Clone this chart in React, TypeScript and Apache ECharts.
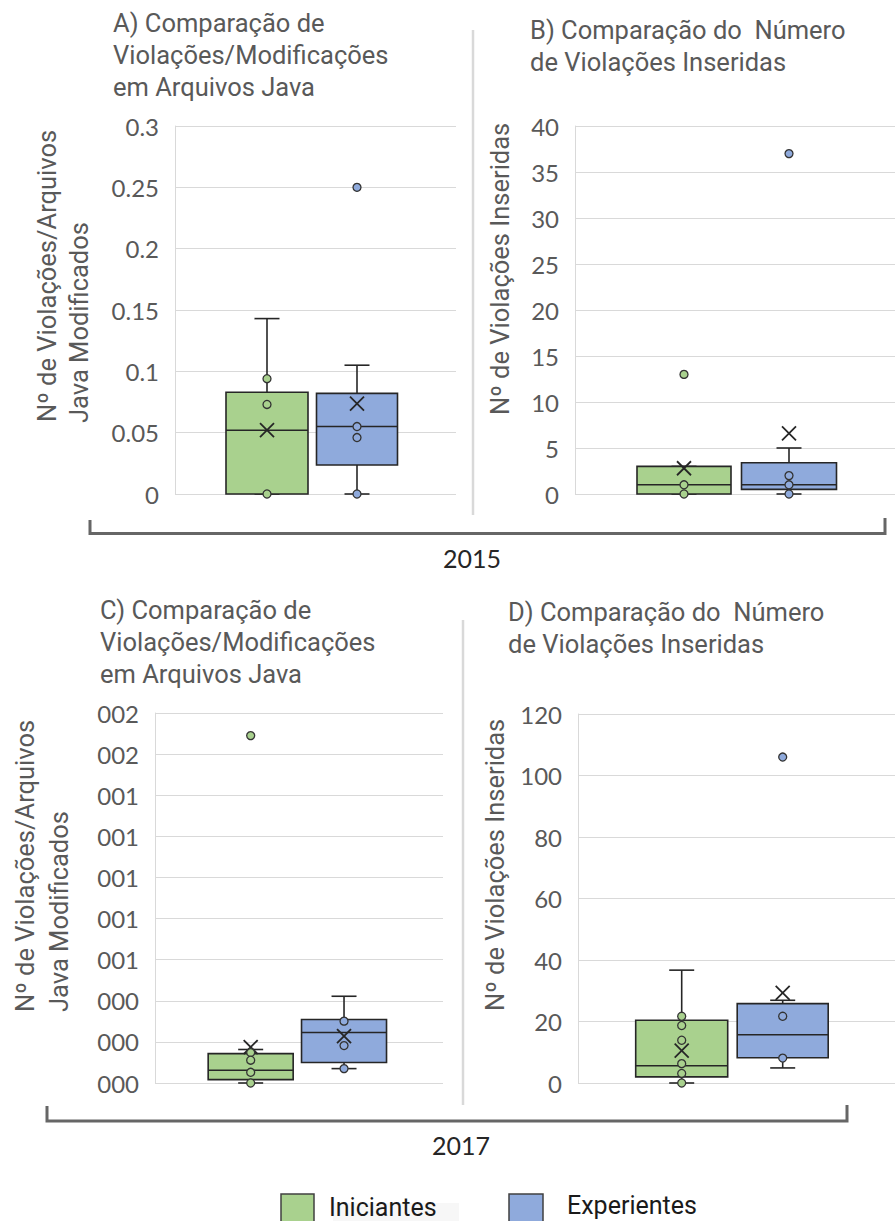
import React, { useEffect, useRef } from 'react';
import * as echarts from 'echarts';

const categories = ['Iniciantes', 'Experientes'];
const colors = ['#A9D18E', '#8FAADC'];

// [min, Q1, median, Q3, max] per group
const boxA = [[0, 0, 0.052, 0.083, 0.143], [0, 0.0236, 0.055, 0.082, 0.105]];
const meanA = [0.052, 0.0736];
const pointsA = [[0.094, 0.073, 0], [0.055, 0.046, 0, 0.25]];

const boxB = [[0, 0, 1, 3, 3], [0, 0.5, 1, 3.4, 5]];
const meanB = [2.8, 6.6];
const pointsB = [[13, 1, 0], [37, 2, 1, 0]];

const boxC = [[0, 0.0000166, 0.000062, 0.000143, 0.000163], [0.00007, 0.0000994, 0.000246, 0.000309, 0.000422]];
const meanC = [0.000175, 0.000228];
const pointsC = [[0.00169, 0.000148, 0.000111, 0.000052, 0], [0.000301, 0.000182, 0.00007]];
const ticksC = ['000', '000', '000', '001', '001', '001', '001', '001', '002', '002'];

const boxD = [[0, 2, 5.6, 20.4, 36.7], [4.9, 8.2, 15.7, 25.8, 26.9]];
const meanD = [10.5, 29.3];
const pointsD = [[21.7, 18.7, 13.9, 6.3, 3.1, 0], [106, 21.7, 8.1]];

const titleA = 'A) Comparação de\nViolações/Modificações\nem Arquivos Java';
const titleB = 'B) Comparação do  Número\nde Violações Inseridas';
const titleC = 'C) Comparação de\nViolações/Modificações\nem Arquivos Java';
const titleD = 'D) Comparação do  Número\nde Violações Inseridas';
const yNameRatio = ['Nº de Violações/Arquivos', 'Java Modificados'];
const yNameCount = 'Nº de Violações Inseridas';
const years = ['2015', '2017'];

const panels = [
  { frame: { left: 175, top: 126, width: 281, height: 368 }, data: { left: 222, width: 180 }, max: 0.3, interval: 0.05, boxW: [82, 81], box: boxA, mean: meanA, points: pointsA, labels: null as string[] | null },
  { frame: { left: 575, top: 126, width: 320, height: 368 }, data: { left: 631.5, width: 210 }, max: 40, interval: 5, boxW: [94, 95], box: boxB, mean: meanB, points: pointsB, labels: null },
  { frame: { left: 155, top: 713, width: 288, height: 370 }, data: { left: 204, width: 186.7 }, max: 0.0018, interval: 0.0002, boxW: [85, 85], box: boxC, mean: meanC, points: pointsC, labels: ticksC },
  { frame: { left: 578, top: 714, width: 317, height: 369 }, data: { left: 631.2, width: 202 }, max: 120, interval: 20, boxW: [92, 91], box: boxD, mean: meanD, points: pointsD, labels: null },
];

const STROKE = '#262626';
const GRAY = '#595959';

const makeRender = (boxW: number[]) => (params: any, api: any) => {
  const i = params.dataIndex;
  const idx = api.value(0);
  const c = (v: number) => api.coord([idx, v]);
  const [x, yMin] = c(api.value(1));
  const yQ1 = c(api.value(2))[1];
  const yMed = c(api.value(3))[1];
  const yQ3 = c(api.value(4))[1];
  const yMax = c(api.value(5))[1];
  const yMean = c(api.value(6))[1];
  const hw = boxW[i] / 2;
  const cap = 12.5;
  const m = 7;
  const ls = { stroke: STROKE, lineWidth: 1.6 };
  return {
    type: 'group',
    children: [
      { type: 'line', shape: { x1: x, y1: yMax, x2: x, y2: yQ3 }, style: ls },
      { type: 'line', shape: { x1: x, y1: yQ1, x2: x, y2: yMin }, style: ls },
      { type: 'line', shape: { x1: x - cap, y1: yMax, x2: x + cap, y2: yMax }, style: ls },
      { type: 'line', shape: { x1: x - cap, y1: yMin, x2: x + cap, y2: yMin }, style: ls },
      { type: 'rect', shape: { x: x - hw, y: yQ3, width: hw * 2, height: yQ1 - yQ3 }, style: { fill: colors[i], stroke: STROKE, lineWidth: 1.6 } },
      { type: 'line', shape: { x1: x - hw, y1: yMed, x2: x + hw, y2: yMed }, style: ls },
      { type: 'line', shape: { x1: x - m, y1: yMean - m, x2: x + m, y2: yMean + m }, style: { stroke: STROKE, lineWidth: 1.8 } },
      { type: 'line', shape: { x1: x - m, y1: yMean + m, x2: x + m, y2: yMean - m }, style: { stroke: STROKE, lineWidth: 1.8 } },
    ],
  };
};

function buildOption() {
  const grid: any[] = [];
  const xAxis: any[] = [];
  const yAxis: any[] = [];
  const series: any[] = [];
  panels.forEach((p, k) => {
    const f = 2 * k;
    const d = 2 * k + 1;
    grid.push({ left: p.frame.left, top: p.frame.top, width: p.frame.width, height: p.frame.height });
    grid.push({ left: p.data.left, top: p.frame.top, width: p.data.width, height: p.frame.height });
    xAxis.push({ type: 'value', gridIndex: f, show: false, min: 0, max: 1 });
    xAxis.push({ type: 'category', gridIndex: d, show: false, data: categories, boundaryGap: true });
    const labels = p.labels;
    yAxis.push({
      type: 'value', gridIndex: f, min: 0, max: p.max, interval: p.interval,
      axisLine: { show: true, lineStyle: { color: '#d9d9d9', width: 1 } },
      axisTick: { show: false },
      splitLine: { show: true, lineStyle: { color: '#d9d9d9', width: 1 } },
      axisLabel: {
        color: GRAY, fontFamily: 'Lato', fontSize: 24, margin: 16,
        formatter: labels ? (_v: number, i: number) => labels[i] : undefined,
      },
    });
    yAxis.push({ type: 'value', gridIndex: d, min: 0, max: p.max, show: false });
    series.push({
      type: 'custom', xAxisIndex: d, yAxisIndex: d, z: 2,
      renderItem: makeRender(p.boxW),
      encode: { x: 0, y: [1, 2, 3, 4, 5, 6] },
      data: p.box.map((b, i) => [i, ...b, p.mean[i]]),
    });
    const pts: number[][] = [];
    p.points.forEach((arr, i) => arr.forEach((v) => pts.push([i, v])));
    series.push({
      type: 'scatter', xAxisIndex: d, yAxisIndex: d, z: 3,
      symbol: 'circle', symbolSize: 8,
      itemStyle: { color: (q: any) => colors[q.data[0]], borderColor: '#333', borderWidth: 1.3, opacity: 1 },
      data: pts,
    });
  });

  const titleStyle = { fill: GRAY, fontFamily: 'Roboto', fontSize: 25.5, lineHeight: 32 };
  const nameStyle = { fill: GRAY, fontFamily: 'Roboto', fontSize: 25.5 };
  const rot = (x: number, y: number, text: string) => ({
    type: 'text', x, y, rotation: Math.PI / 2,
    style: { ...nameStyle, text, align: 'left', verticalAlign: 'middle' },
  });

  const graphic: any[] = [
    { type: 'text', x: 113, y: 6.5, style: { ...titleStyle, text: titleA, align: 'left', verticalAlign: 'top' } },
    { type: 'text', x: 530, y: 13.5, style: { ...titleStyle, text: titleB, align: 'left', verticalAlign: 'top' } },
    { type: 'text', x: 100, y: 594, style: { ...titleStyle, text: titleC, align: 'left', verticalAlign: 'top' } },
    { type: 'text', x: 508, y: 595.5, style: { ...titleStyle, text: titleD, align: 'left', verticalAlign: 'top' } },
    rot(47, 422, yNameRatio[0]),
    rot(79, 423, yNameRatio[1]),
    rot(500, 415, yNameCount),
    rot(25, 1012, yNameRatio[0]),
    rot(59, 1012, yNameRatio[1]),
    rot(495, 1011, yNameCount),
    { type: 'line', shape: { x1: 473, y1: 30, x2: 473, y2: 515 }, style: { stroke: '#d9d9d9', lineWidth: 2.5 } },
    { type: 'line', shape: { x1: 463, y1: 620, x2: 463, y2: 1105 }, style: { stroke: '#d9d9d9', lineWidth: 2.5 } },
    { type: 'polyline', shape: { points: [[90, 520], [90, 533.5], [885, 533.5], [885, 518]] }, style: { stroke: '#666', lineWidth: 3, fill: 'none' } },
    { type: 'polyline', shape: { points: [[47, 1106], [47, 1121], [847, 1121], [847, 1105]] }, style: { stroke: '#666', lineWidth: 3, fill: 'none' } },
    { type: 'text', x: 472, y: 558, style: { text: years[0], fill: '#262626', fontFamily: 'Lato', fontSize: 25, align: 'center', verticalAlign: 'middle' } },
    { type: 'text', x: 461, y: 1145, style: { text: years[1], fill: '#262626', fontFamily: 'Lato', fontSize: 25, align: 'center', verticalAlign: 'middle' } },
    { type: 'rect', shape: { x: 333, y: 1203, width: 126, height: 18 }, style: { fill: '#f7f7f7' } },
    { type: 'rect', shape: { x: 281, y: 1194, width: 33, height: 33 }, style: { fill: colors[0], stroke: '#404040', lineWidth: 1.5 } },
    { type: 'rect', shape: { x: 509, y: 1194, width: 34, height: 33 }, style: { fill: colors[1], stroke: '#404040', lineWidth: 1.5 } },
    { type: 'text', x: 329, y: 1207, style: { text: categories[0], fill: '#1a1a1a', fontFamily: 'Roboto', fontSize: 25, align: 'left', verticalAlign: 'middle' } },
    { type: 'text', x: 567, y: 1205, style: { text: categories[1], fill: '#1a1a1a', fontFamily: 'Roboto', fontSize: 25, align: 'left', verticalAlign: 'middle' } },
  ];

  return { animation: false, backgroundColor: '#ffffff', grid, xAxis, yAxis, series, graphic };
}

export default function App() {
  const ref = useRef<HTMLDivElement>(null);
  useEffect(() => {
    document.body.style.margin = '0';
    const chart = echarts.init(ref.current!, undefined, { renderer: 'svg' });
    chart.setOption(buildOption() as any);
    return () => chart.dispose();
  }, []);
  return <div ref={ref} style={{ position: 'absolute', left: 0, top: 0, width: 895, height: 1221 }} />;
}
